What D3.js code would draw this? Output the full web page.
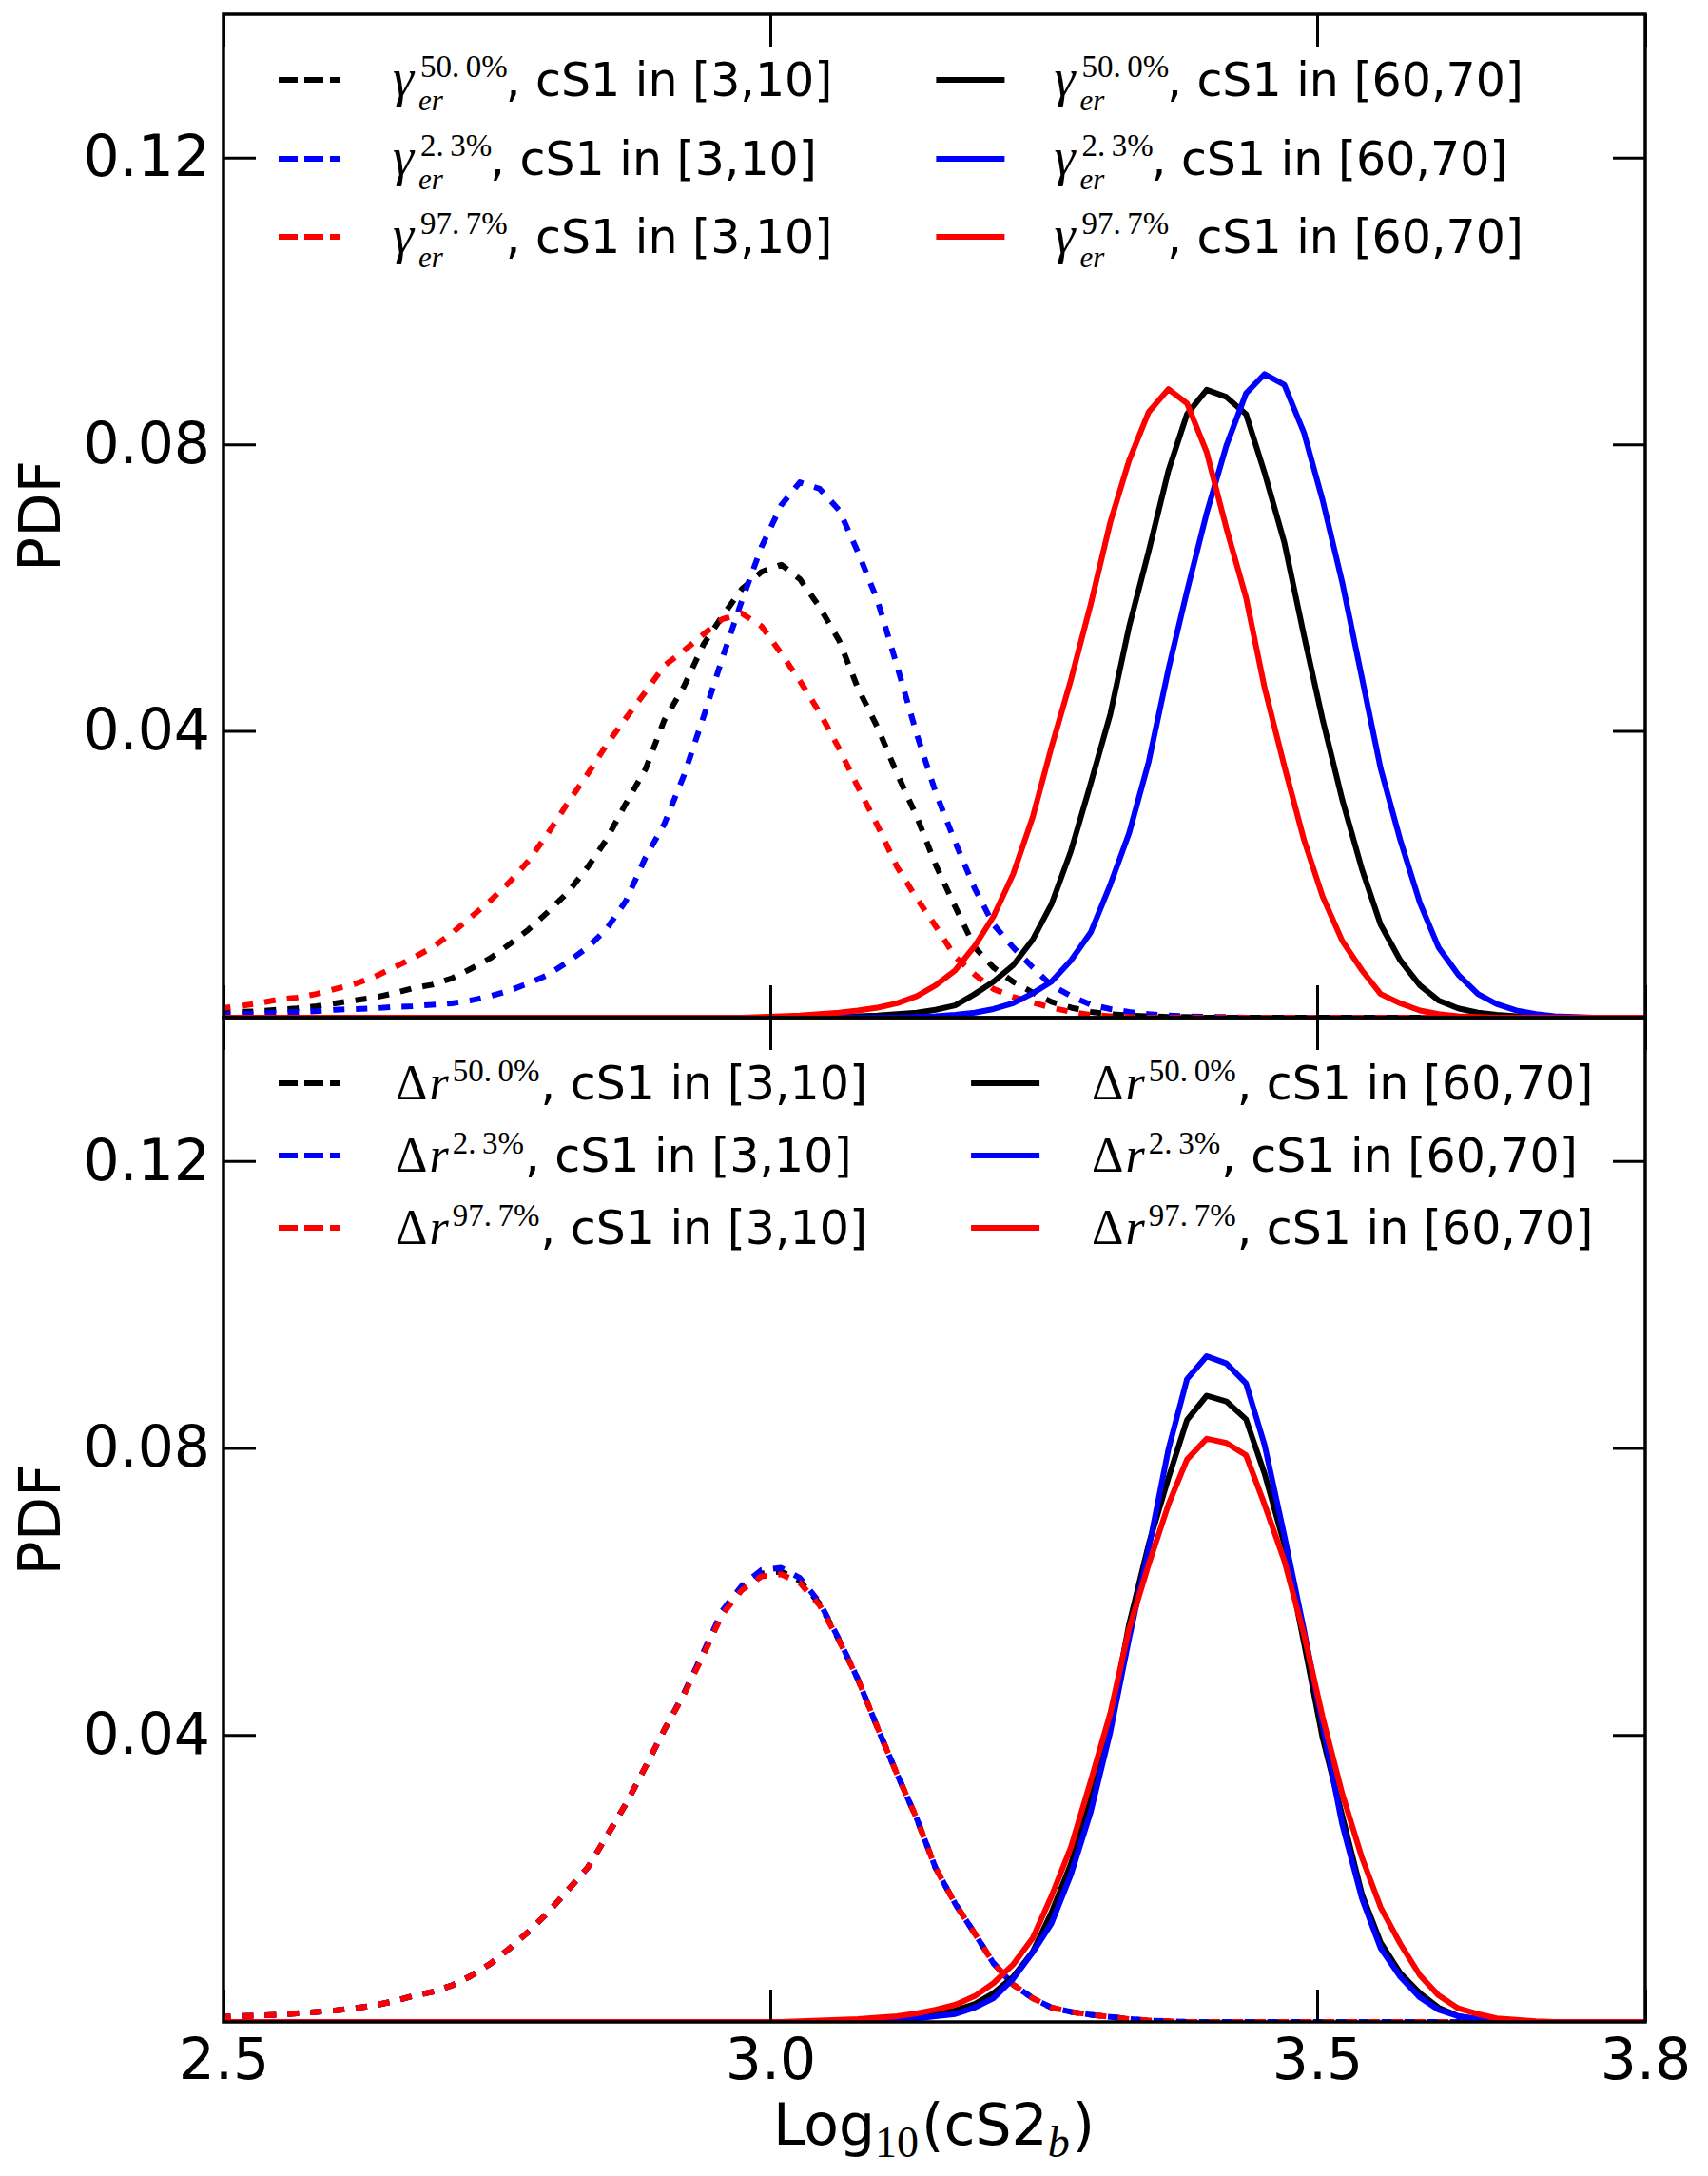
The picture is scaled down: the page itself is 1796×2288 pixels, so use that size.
<!DOCTYPE html>
<meta charset="utf-8">
<style>
body { margin: 0; background: #fff; }
.tick text { font: 60px "DejaVu Sans", sans-serif; fill: #000; }
.tick line { stroke: #000; stroke-width: 3; }
.lab { font: 49px "DejaVu Sans", sans-serif; fill: #000; }
.ax { font: 60px "DejaVu Sans", sans-serif; fill: #000; }
.math { font-family: "Liberation Serif", serif; font-size: 52px; }
.big { font-size: 56px; }
.sup { font-family: "Liberation Serif", serif; font-size: 33px; }
.sub { font-family: "Liberation Serif", serif; font-size: 31px; }
.xsub { font-family: "Liberation Serif", serif; font-size: 46px; }
.it { font-style: italic; }
</style>
<body>
<script src="https://d3js.org/d3.v7.min.js"></script>
<script>

// bin centres of Log10(cS2_b)
const logCS2 = [2.496, 2.514, 2.532, 2.549, 2.567, 2.585, 2.602, 2.620, 2.638, 2.656,
  2.673, 2.691, 2.709, 2.726, 2.744, 2.762, 2.779, 2.797, 2.815, 2.833,
  2.850, 2.868, 2.886, 2.903, 2.921, 2.939, 2.956, 2.974, 2.992, 3.010,
  3.027, 3.045, 3.063, 3.080, 3.098, 3.116, 3.134, 3.151, 3.169, 3.187,
  3.204, 3.222, 3.240, 3.257, 3.275, 3.293, 3.311, 3.328, 3.346, 3.364,
  3.381, 3.399, 3.417, 3.435, 3.452, 3.470, 3.488, 3.505, 3.523, 3.541,
  3.558, 3.576, 3.594, 3.611, 3.629, 3.647, 3.664, 3.682, 3.700, 3.717,
  3.735, 3.753, 3.770, 3.788, 3.806];

// top panel: gamma_er variations
const gammaLow50 = [0.0007,0.0008,0.0009,0.0011,0.0013,0.0016,0.0020,0.0024,0.0028,0.0034,
  0.0041,0.0046,0.0055,0.0068,0.0083,0.0103,0.0123,0.0148,0.0175,0.0210,
  0.0248,0.0299,0.0347,0.0415,0.0462,0.0521,0.0560,0.0598,0.0622,0.0632,
  0.0612,0.0573,0.0526,0.0460,0.0405,0.0340,0.0280,0.0214,0.0155,0.0098,
  0.0070,0.0050,0.0035,0.0022,0.0014,0.0008,0.0005,0.0003,0.0002,0.0001,
  0.0001,0,0,0,0,0,0,0,0,0, 0,0,0,0,0,0,0,0,0,0, 0,0,0,0,0];
const gammaLow2 = [0.0004,0.0005,0.0006,0.0007,0.0008,0.0009,0.0011,0.0012,0.0013,0.0015,
  0.0016,0.0018,0.0020,0.0024,0.0030,0.0038,0.0048,0.0060,0.0078,0.0098,
  0.0123,0.0163,0.0224,0.0270,0.0338,0.0420,0.0501,0.0582,0.0657,0.0715,
  0.0747,0.0738,0.0708,0.0650,0.0582,0.0490,0.0395,0.0315,0.0245,0.0180,
  0.0130,0.0098,0.0070,0.0045,0.0030,0.0018,0.0012,0.0008,0.0005,0.0003,
  0.0002,0.0001,0.0001,0,0,0,0,0,0,0, 0,0,0,0,0,0,0,0,0,0, 0,0,0,0,0];
const gammaLow97 = [0.0013,0.0016,0.0020,0.0025,0.0028,0.0033,0.0040,0.0047,0.0057,0.0070,
  0.0083,0.0098,0.0118,0.0140,0.0163,0.0190,0.0219,0.0258,0.0300,0.0340,
  0.0380,0.0418,0.0455,0.0491,0.0512,0.0535,0.0556,0.0564,0.0546,0.0508,
  0.0470,0.0426,0.0375,0.0322,0.0268,0.0210,0.0166,0.0128,0.0085,0.0060,
  0.0040,0.0029,0.0021,0.0014,0.0008,0.0004,0.0002,0.0001,0,0,
  0,0,0,0,0,0,0,0,0,0, 0,0,0,0,0,0,0,0,0,0, 0,0,0,0,0];
const gammaHigh50 = [0,0,0,0,0,0,0,0,0,0, 0,0,0,0,0,0,0,0,0,0, 0,0,0,0,0,0,0,0,0,0,
  0,0,0.0001,0.0002,0.0003,0.0005,0.0007,0.0011,0.0017,0.0033,
  0.0050,0.0073,0.0109,0.0158,0.0233,0.0327,0.0424,0.0545,0.0651,0.0763,
  0.0842,0.0876,0.0866,0.0842,0.0760,0.0663,0.0533,0.0416,0.0304,0.0207,
  0.0130,0.0080,0.0045,0.0024,0.0013,0.0007,0.0004,0.0002,0.0001,0,
  0,0,0,0,0];
const gammaHigh2 = [0,0,0,0,0,0,0,0,0,0, 0,0,0,0,0,0,0,0,0,0, 0,0,0,0,0,0,0,0,0,0,
  0,0,0,0,0,0,0.0001,0.0002,0.0004,0.0007,
  0.0012,0.0020,0.0034,0.0050,0.0080,0.0119,0.0186,0.0257,0.0357,0.0486,
  0.0595,0.0704,0.0798,0.0871,0.0898,0.0883,0.0816,0.0722,0.0607,0.0474,
  0.0348,0.0248,0.0160,0.0098,0.0060,0.0033,0.0019,0.0010,0.0005,0.0002,
  0.0001,0,0,0,0];
const gammaHigh97 = [0,0,0,0,0,0,0,0,0,0, 0,0,0,0,0,0,0,0,0,0, 0,0,0,0,0,0,0,0,
  0.0001,0.0002,0.0003,0.0005,0.0007,0.0010,0.0014,0.0020,0.0030,0.0045,0.0066,0.0100,
  0.0141,0.0200,0.0280,0.0377,0.0472,0.0577,0.0692,0.0777,0.0845,0.0877,
  0.0857,0.0789,0.0683,0.0586,0.0460,0.0351,0.0248,0.0169,0.0107,0.0066,
  0.0033,0.0020,0.0010,0.0005,0.0002,0.0001,0,0,0,0,
  0,0,0,0,0];

// bottom panel: delta r variations
const drLow50 = [0.0007,0.0008,0.0009,0.0010,0.0012,0.0014,0.0016,0.0019,0.0023,0.0029,
  0.0036,0.0042,0.0051,0.0064,0.0081,0.0103,0.0126,0.0153,0.0184,0.0215,
  0.0258,0.0304,0.0356,0.0407,0.0457,0.0514,0.0570,0.0605,0.0625,0.0628,
  0.0615,0.0583,0.0532,0.0478,0.0410,0.0345,0.0283,0.0215,0.0165,0.0123,
  0.0082,0.0052,0.0033,0.0020,0.0014,0.0010,0.0007,0.0004,0.0002,0.0001,
  0,0,0,0,0,0,0,0,0,0, 0,0,0,0,0,0,0,0,0,0, 0,0,0,0,0];
const drLow2 = [0.0007,0.0008,0.0009,0.0010,0.0012,0.0014,0.0016,0.0019,0.0023,0.0029,
  0.0036,0.0042,0.0051,0.0064,0.0081,0.0103,0.0126,0.0153,0.0184,0.0215,
  0.0258,0.0304,0.0356,0.0407,0.0458,0.0516,0.0573,0.0608,0.0630,0.0633,
  0.0619,0.0585,0.0533,0.0478,0.0410,0.0345,0.0283,0.0215,0.0165,0.0123,
  0.0082,0.0052,0.0033,0.0020,0.0014,0.0010,0.0007,0.0004,0.0002,0.0001,
  0,0,0,0,0,0,0,0,0,0, 0,0,0,0,0,0,0,0,0,0, 0,0,0,0,0];
const drLow97 = [0.0007,0.0008,0.0009,0.0010,0.0012,0.0014,0.0016,0.0019,0.0023,0.0029,
  0.0036,0.0042,0.0051,0.0064,0.0081,0.0103,0.0126,0.0153,0.0184,0.0215,
  0.0258,0.0304,0.0356,0.0407,0.0456,0.0512,0.0568,0.0602,0.0621,0.0624,
  0.0612,0.0581,0.0531,0.0478,0.0410,0.0345,0.0283,0.0215,0.0165,0.0123,
  0.0082,0.0052,0.0033,0.0020,0.0014,0.0010,0.0007,0.0004,0.0002,0.0001,
  0,0,0,0,0,0,0,0,0,0, 0,0,0,0,0,0,0,0,0,0, 0,0,0,0,0];
const drHigh50 = [0,0,0,0,0,0,0,0,0,0, 0,0,0,0,0,0,0,0,0,0, 0,0,0,0,0,0,0,0,0,0,
  0,0,0.0001,0.0002,0.0003,0.0005,0.0008,0.0012,0.0016,0.0025,
  0.0040,0.0063,0.0098,0.0152,0.0221,0.0310,0.0416,0.0554,0.0666,0.0758,
  0.0839,0.0873,0.0865,0.0840,0.0764,0.0666,0.0528,0.0396,0.0287,0.0178,
  0.0111,0.0068,0.0040,0.0020,0.0008,0.0004,0.0002,0.0001,0,0,
  0,0,0,0,0];
const drHigh2 = [0,0,0,0,0,0,0,0,0,0, 0,0,0,0,0,0,0,0,0,0, 0,0,0,0,0,0,0,0,0,0,
  0,0,0,0.0001,0.0002,0.0003,0.0005,0.0008,0.0011,0.0020,
  0.0033,0.0060,0.0097,0.0137,0.0206,0.0293,0.0405,0.0534,0.0660,0.0798,
  0.0896,0.0928,0.0918,0.0890,0.0804,0.0678,0.0546,0.0413,0.0275,0.0172,
  0.0103,0.0063,0.0034,0.0017,0.0008,0.0004,0.0002,0.0001,0,0,
  0,0,0,0,0];
const drHigh97 = [0,0,0,0,0,0,0,0,0,0, 0,0,0,0,0,0,0,0,0,0, 0,0,0,0,0,0,0,0,0,0,
  0.0001,0.0002,0.0003,0.0004,0.0006,0.0008,0.0012,0.0017,0.0024,0.0036,
  0.0054,0.0080,0.0117,0.0175,0.0244,0.0336,0.0431,0.0548,0.0638,0.0721,
  0.0784,0.0813,0.0807,0.0790,0.0721,0.0643,0.0540,0.0425,0.0318,0.0229,
  0.0160,0.0109,0.0065,0.0037,0.0019,0.0011,0.0005,0.0003,0.0001,0,
  0,0,0,0,0];

const quantiles = ["50.\u20090%", "2.\u20093%", "97.\u20097%"];
const colors = ["#000000", "#0000ff", "#ff0000"];
const binsLow = "[3,10]", binsHigh = "[60,70]";
const yTicks = [0.04, 0.08, 0.12];
const xTicks = [2.5, 3.0, 3.5, 3.8];

var svg = d3.select("body").append("svg")
  .attr("width", 1796).attr("height", 2288);
svg.append("rect").attr("width", 1796).attr("height", 2288).attr("fill", "#fff");

var x = d3.scaleLinear().domain([2.5, 3.8]).range([235, 1730]);

var panels = [
  {top: 15, bottom: 1070, symbol: "gamma", rows: [84, 167, 249],
   low: [gammaLow50, gammaLow2, gammaLow97], high: [gammaHigh50, gammaHigh2, gammaHigh97]},
  {top: 1070, bottom: 2126, symbol: "delta", rows: [1139, 1215, 1291],
   low: [drLow50, drLow2, drLow97], high: [drHigh50, drHigh2, drHigh97]}
];

function len(sel) { return sel.node().getComputedTextLength(); }

// one text element: symbol with sub/superscripts, then plain text; returns end x
function mathLabel(g, x0, base, symbol, sup, rest) {
  var t = g.append("text").attr("class", "lab");
  var rx;
  if (symbol == "gamma") {
    t.append("tspan").attr("class", "math big it").attr("x", x0).attr("y", base).text("\u03b3");
    var s1 = t.append("tspan").attr("class", "sup").attr("x", x0 + 29).attr("y", base - 20).text(sup);
    var s2 = t.append("tspan").attr("class", "sub it").attr("x", x0 + 27).attr("y", base + 15).text("er");
    rx = Math.max(x0 + 29 + len(s1), x0 + 27 + len(s2)) - 2;
  } else {
    var d = t.append("tspan").attr("class", "math").attr("x", x0 + 3).attr("y", base).text("\u0394");
    var rx0 = x0 + 3 + len(d) + 2;
    var r = t.append("tspan").attr("class", "math it").attr("x", rx0).attr("y", base).text("r");
    var sx = rx0 + len(r) + 4;
    var s = t.append("tspan").attr("class", "sup").attr("x", sx).attr("y", base - 19).text(sup);
    rx = sx + len(s) + 1;
  }
  var rt = t.append("tspan").attr("x", rx).attr("y", base).text(rest);
  return rx + len(rt);
}

panels.forEach(function(p, k) {
  var y = d3.scaleLinear().domain([0, 0.14]).range([p.bottom, p.top]);
  var g = svg.append("g");

  g.append("clipPath").attr("id", "clip" + k)
    .append("rect").attr("x", 235).attr("y", p.top).attr("width", 1495).attr("height", p.bottom - p.top);

  var line = d3.line()
    .x(function(d, i) { return x(logCS2[i]); })
    .y(function(d) { return y(d); });

  var series = [];
  p.low.forEach(function(v, j) { series.push({values: v, color: colors[j], dash: "12,12"}); });
  p.high.forEach(function(v, j) { series.push({values: v, color: colors[j], dash: null}); });

  g.append("g").attr("clip-path", "url(#clip" + k + ")")
    .selectAll("path")
    .data(series)
    .enter()
    .append("path")
      .attr("d", function(s) { return line(s.values); })
      .attr("fill", "none")
      .attr("stroke", function(s) { return s.color; })
      .attr("stroke-width", 6)
      .attr("stroke-linejoin", "round")
      .attr("stroke-dasharray", function(s) { return s.dash; });

  // frame
  g.append("rect").attr("x", 235).attr("y", p.top).attr("width", 1495).attr("height", p.bottom - p.top)
    .attr("fill", "none").attr("stroke", "#000").attr("stroke-width", 3.5);

  // ticks, pointing inwards on every side
  var left = g.append("g").attr("transform", "translate(235,0)")
    .call(d3.axisLeft(y).tickValues(yTicks).tickFormat(d3.format(".2f")).tickSizeInner(-34).tickSizeOuter(0).tickPadding(14));
  var right = g.append("g").attr("transform", "translate(1730,0)")
    .call(d3.axisRight(y).tickValues(yTicks).tickFormat("").tickSizeInner(-34).tickSizeOuter(0));
  var top = g.append("g").attr("transform", "translate(0," + p.top + ")")
    .call(d3.axisTop(x).tickValues(xTicks).tickFormat("").tickSizeInner(-34).tickSizeOuter(0));
  var bottom = g.append("g").attr("transform", "translate(0," + p.bottom + ")")
    .call(d3.axisBottom(x).tickValues(xTicks).tickFormat(k == 1 ? d3.format(".1f") : "").tickSizeInner(-34).tickSizeOuter(0).tickPadding(17));
  [left, right, top, bottom].forEach(function(a) {
    a.select(".domain").remove();
    a.attr("font-family", null).attr("font-size", null);
  });

  g.append("text").attr("class", "ax")
    .attr("transform", "translate(63," + (p.top + p.bottom) / 2 + ") rotate(-90)")
    .attr("text-anchor", "middle").text("PDF");

  // legend, two columns
  var leg = g.append("g");
  var col1End = 0;
  p.rows.forEach(function(ry, j) {
    leg.append("line").attr("x1", 293).attr("x2", 357).attr("y1", ry).attr("y2", ry)
      .attr("stroke", colors[j]).attr("stroke-width", 6).attr("stroke-dasharray", "20,7");
    col1End = Math.max(col1End, mathLabel(leg, 413, ry + 17, p.symbol, quantiles[j], ", cS1 in " + binsLow));
  });
  var hx = col1End + 109;
  p.rows.forEach(function(ry, j) {
    leg.append("line").attr("x1", hx).attr("x2", hx + 72).attr("y1", ry).attr("y2", ry)
      .attr("stroke", colors[j]).attr("stroke-width", 6);
    mathLabel(leg, hx + 124, ry + 17, p.symbol, quantiles[j], ", cS1 in " + binsHigh);
  });
});

// x label: Log10(cS2_b), one text element
var xl = svg.append("text").attr("class", "ax");
var parts = [["Log", null, 0], ["10", "xsub", 13], ["(cS2", null, 0], ["b", "xsub it", 13], [")", null, 0]];
var cx = 0;
parts.forEach(function(p) {
  var t = xl.append("tspan").attr("x", cx).attr("y", 2255 + p[2]).text(p[0]);
  if (p[1]) t.attr("class", p[1]);
  cx += len(t) + (p[2] ? 3 : 0);
});
xl.attr("transform", "translate(" + (982 - cx / 2) + ",0)");

</script>
</body>
